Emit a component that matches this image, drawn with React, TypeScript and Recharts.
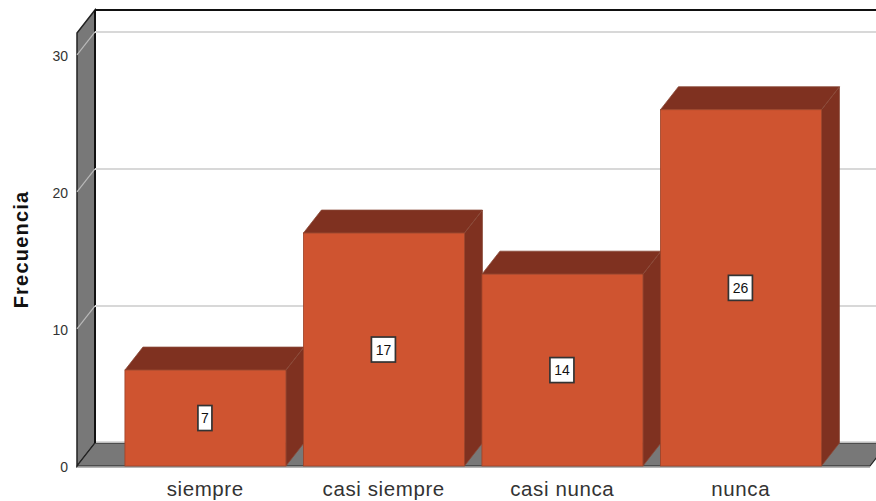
import { BarChart, Bar, XAxis, YAxis, ReferenceLine, LabelList } from 'recharts';

const categories = ['siempre', 'casi siempre', 'casi nunca', 'nunca'];
const counts = [7, 17, 14, 26];
const yTicks = [0, 10, 20, 30];
const gridValues = [10, 20, 30];
const yMax = 31.6;

const data = categories.map((name, i) => ({ name, count: counts[i] }));

// fake 3D: how far the back plane is shifted from the front plane
const DX = 18;
const DY = 23;
const PLOT_H = 433;

const FONT = '"Liberation Sans", Arial, sans-serif';
const BAR_FRONT = '#CF5430';
const BAR_DARK = '#7F3120';
const WALL = '#787878';

// hung on the y=0 reference line, which spans the whole plot width
function Walls({ x1, y1, x2 }: any) {
  const x = x1;
  const bottom = y1;
  const y = bottom - PLOT_H;
  const right = x2;
  return (
    <g>
      <polygon points={`${x},${y} ${x + DX},${y - DY} ${x + DX},${bottom - DY} ${x},${bottom}`} fill={WALL} stroke="#222" strokeWidth={1.5} />
      <polygon points={`${x},${bottom} ${x + DX},${bottom - DY} ${right + DX},${bottom - DY} ${right},${bottom}`} fill={WALL} stroke="#222" strokeWidth={1.2} />
      <line x1={x + DX} y1={bottom - DY - 1} x2={right + DX} y2={bottom - DY - 1} stroke="#cfcfcf" strokeWidth={1.5} />
      <line x1={x + DX} y1={y - DY} x2={right + DX} y2={y - DY} stroke="#111" strokeWidth={2} />
      <line x1={x + DX} y1={y - DY} x2={x + DX} y2={bottom - DY} stroke="#111" strokeWidth={2} />
      <line x1={x} y1={bottom + 1.5} x2={right} y2={bottom + 1.5} stroke="#b5b5b5" strokeWidth={1.2} />
    </g>
  );
}

function GridLine({ x1, y1, x2, y2 }: any) {
  return (
    <g>
      <line x1={x1} y1={y1} x2={x1 + DX} y2={y1 - DY} stroke="#b9b9b9" strokeWidth={1.2} />
      <line x1={x1 + DX} y1={y1 - DY} x2={x2 + DX} y2={y2 - DY} stroke="#d8d8d8" strokeWidth={2} />
    </g>
  );
}

function Box3D({ x, y, width, height }: any) {
  const r = x + width;
  const b = y + height;
  return (
    <g>
      <polygon points={`${r},${y} ${r + DX},${y - DY} ${r + DX},${b - DY} ${r},${b}`} fill={BAR_DARK} stroke="#8a4a38" strokeWidth={0.8} />
      <polygon points={`${x},${y} ${x + DX},${y - DY} ${r + DX},${y - DY} ${r},${y}`} fill={BAR_DARK} stroke="#8a4a38" strokeWidth={0.8} />
      <rect x={x} y={y} width={width} height={height} fill={BAR_FRONT} stroke="#9c4328" strokeWidth={0.8} />
    </g>
  );
}

function ValueTag({ x, y, width, height, value }: any) {
  const cx = x + width / 2 - 0.5;
  const cy = y + height / 2;
  const w = String(value).length > 1 ? 24 : 14;
  const h = 25;
  return (
    <g>
      <rect x={cx - w / 2} y={cy - h / 2} width={w} height={h} fill="#fff" stroke="#333" strokeWidth={1.7} />
      <text x={cx} y={cy + 5} textAnchor="middle" fontFamily={FONT} fontSize={14} fill="#111">
        {value}
      </text>
    </g>
  );
}

export default function App() {
  return (
    <div style={{ position: 'absolute', left: 0, top: 0, width: 876, height: 501, overflow: 'hidden', background: '#fff' }}>
      <BarChart
        width={876}
        height={501}
        data={data}
        margin={{ top: 33, right: 6, bottom: 0, left: 0 }}
        barCategoryGap="5%"
      >
        <XAxis
          dataKey="name"
          height={35}
          padding={{ left: 39, right: 40 }}
          axisLine={false}
          tickLine={false}
          tickMargin={9}
          tick={{ fontSize: 20.5, fontFamily: FONT, fill: '#333', letterSpacing: 0.6 }}
          interval={0}
        />
        <YAxis
          width={77}
          domain={[0, yMax]}
          ticks={yTicks}
          axisLine={false}
          tickLine={false}
          tickMargin={3}
          tick={{ fontSize: 14, fontFamily: FONT, fill: '#333', dy: 1 }}
          label={{
            value: 'Frecuencia',
            angle: -90,
            position: 'insideLeft',
            offset: 21,
            style: { fontSize: 20, fontWeight: 700, fontFamily: FONT, fill: '#111', textAnchor: 'middle', letterSpacing: 1.2 },
          }}
        />
        <ReferenceLine y={0} shape={Walls} zIndex={-60} />
        {gridValues.map(v => (
          <ReferenceLine key={v} y={v} shape={GridLine} zIndex={-50} />
        ))}
        <Bar dataKey="count" isAnimationActive={false} shape={Box3D}>
          <LabelList dataKey="count" content={ValueTag} />
        </Bar>
      </BarChart>
    </div>
  );
}
